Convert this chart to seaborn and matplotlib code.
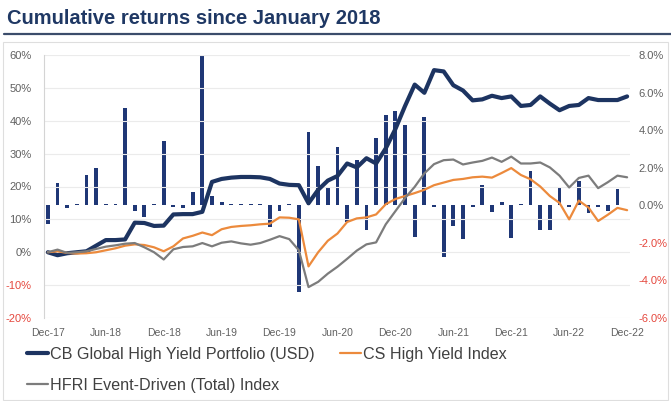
import matplotlib
matplotlib.use("Agg")
import matplotlib.pyplot as plt
import seaborn as sns
from matplotlib.lines import Line2D
from matplotlib.patches import Rectangle

sns.set_style("white")
plt.rcParams["font.family"] = ["Liberation Sans", "DejaVu Sans"]

# Month-end observations, Dec-17 through Dec-22
tick_labels = ["Dec-17", "Jun-18", "Dec-18", "Jun-19", "Dec-19", "Jun-20",
               "Dec-20", "Jun-21", "Dec-21", "Jun-22", "Dec-22"]

# Cumulative returns (%), left axis
cb_cum = [0.0, -0.9, -0.3, 0.0, 0.3, 2.0, 3.7, 3.7, 3.9, 9.0, 8.9, 8.0, 8.1,
          11.5, 11.6, 11.6, 12.3, 21.4, 22.3, 22.7, 22.9, 22.9, 22.8, 22.3,
          20.9, 20.5, 20.4, 14.9, 19.0, 21.8, 23.2, 27.0, 25.8, 28.6, 27.0,
          31.6, 37.5, 44.5, 51.0, 48.5, 55.4, 55.0, 50.8, 49.2, 46.2, 46.5,
          47.6, 46.9, 47.4, 44.5, 44.8, 47.4, 45.2, 43.2, 44.5, 44.8, 46.9,
          46.3, 46.3, 46.3, 47.4]
cs_cum = [0.0, 0.3, -0.2, -0.4, -0.3, 0.0, 0.6, 1.2, 2.0, 2.4, 2.2, 1.5, 0.3,
          1.8, 4.2, 5.0, 6.0, 5.2, 7.0, 7.7, 8.0, 8.2, 8.5, 8.7, 10.6, 10.5,
          10.0, -4.3, 0.0, 3.5, 5.7, 9.2, 10.3, 10.6, 11.5, 14.6, 16.2, 17.1,
          18.0, 19.0, 20.4, 21.2, 22.0, 22.3, 22.8, 23.0, 22.7, 24.1, 25.6,
          23.5, 22.2, 20.0, 17.1, 15.0, 10.0, 15.7, 13.6, 9.5, 11.4, 13.5, 12.8]
hfri_cum = [0.0, 0.8, -0.2, 0.0, 0.3, 1.0, 1.7, 2.1, 2.6, 2.8, 1.5, 0.0, -2.2,
            0.9, 1.6, 1.8, 2.8, 1.8, 2.9, 3.3, 2.7, 2.3, 2.8, 3.8, 4.9, 4.0,
            0.6, -10.6, -9.0, -6.5, -4.4, -2.0, 0.5, 2.4, 3.0, 8.5, 12.5, 16.5,
            19.9, 24.0, 26.8, 28.0, 28.2, 26.7, 27.3, 27.8, 28.8, 27.5, 29.1,
            27.0, 27.0, 27.3, 25.8, 23.3, 19.7, 22.6, 23.3, 19.5, 21.3, 23.3, 22.8]

# Monthly returns of the portfolio (%), right axis
cb_monthly = [-1.0, 1.2, -0.15, 0.05, 1.6, 2.0, 0.05, 0.05, 5.2, -0.3, -0.65,
              0.05, 3.4, -0.1, -0.15, 0.7, 8.0, 0.5, 0.2, 0.05, 0.05, 0.05,
              0.05, -1.15, -0.3, 0.05, -4.6, 3.9, 2.1, 1.0, 3.1, -0.9, 2.4,
              -1.3, 3.6, 4.8, 5.0, 4.3, -1.7, 4.7, -0.1, -2.75, -1.1, -1.8,
              -0.1, 1.1, -0.35, 0.2, -1.75, 0.05, 1.8, -1.3, -1.3, 0.9, -0.1,
              1.3, -0.4, -0.1, -0.3, 0.85]

series_names = ["CB Global High Yield Portfolio (USD)", "CS High Yield Index",
                "HFRI Event-Driven (Total) Index"]

NAVY = "#1d3461"
BAR = "#1f3776"
ORANGE = "#ec8a3c"
GREY = "#7c7c7c"
RED = "#e5473d"
LABEL = "#606060"

W, H = 671, 401
fig = plt.figure(figsize=(W / 100, H / 100), dpi=100)
ax = fig.add_axes([44 / W, 1 - 318 / H, (630 - 44) / W, (318 - 55) / H])
ax2 = ax.twinx()

x_line = list(range(len(cb_cum)))
x_bar = list(range(len(cb_monthly)))

# monthly bars on the secondary axis
sns.barplot(x=x_bar, y=cb_monthly, ax=ax2, native_scale=True, width=0.4,
            color=BAR, saturation=1, errorbar=None, linewidth=0)

# cumulative lines on the primary axis
sns.lineplot(x=x_line, y=cb_cum, ax=ax, color=NAVY, linewidth=3.0,
             label=series_names[0])
sns.lineplot(x=x_line, y=cs_cum, ax=ax, color=ORANGE, linewidth=1.6,
             label=series_names[1])
sns.lineplot(x=x_line, y=hfri_cum, ax=ax, color=GREY, linewidth=1.6,
             label=series_names[2])

ax.set_zorder(ax2.get_zorder() + 1)
ax.patch.set_visible(False)

ax.set_ylim(-20, 60)
ax2.set_ylim(-6, 8)
ax.set_xlim(-0.4, 60.3)

left_ticks = list(range(-20, 61, 10))
ax.set_yticks(left_ticks)
ax.set_yticklabels([f"{t}%" for t in left_ticks])
for t, lab in zip(left_ticks, ax.get_yticklabels()):
    lab.set_color(RED if t < 0 else LABEL)

right_ticks = list(range(-6, 9, 2))
ax2.set_yticks(right_ticks)
ax2.set_yticklabels([f"{t:.1f}%" for t in right_ticks])
for t, lab in zip(right_ticks, ax2.get_yticklabels()):
    lab.set_color(RED if t < 0 else LABEL)

ax.set_xticks(list(range(0, 61, 6)))
ax.set_xticklabels(tick_labels, color=LABEL)

ax.tick_params(axis="y", length=0, labelsize=8, pad=9)
ax.tick_params(axis="x", length=0, labelsize=7.5, pad=7)
ax2.tick_params(axis="y", length=0, labelsize=8, pad=6)
ax.set_xlabel("")
ax.set_ylabel("")
ax2.set_ylabel("")
ax2.set_xlabel("")

ax.yaxis.grid(True, color="#ebebeb", linewidth=0.8)
ax.set_axisbelow(True)
for s in ["top", "right", "bottom"]:
    ax.spines[s].set_visible(False)
    ax2.spines[s].set_visible(False)
ax2.spines["left"].set_visible(False)
ax.spines["left"].set_color("#d4d4d4")
ax.spines["left"].set_linewidth(0.8)

# legend below the plot
handles, labels = ax.get_legend_handles_labels()
ax.get_legend().remove()
order = [0, 2, 1]
leg = fig.legend([handles[i] for i in order], [labels[i] for i in order],
                 ncol=2, loc="upper left", bbox_to_anchor=(27 / W, 1 - 347 / H),
                 frameon=False, fontsize=11.6, handlelength=1.3,
                 handletextpad=0.12, columnspacing=1.6, labelspacing=1.0,
                 borderaxespad=0, borderpad=0)
for txt in leg.get_texts():
    txt.set_color("#404040")

# heading with rule and light panel border
fig.text(7 / W, 1 - 18 / H, "Cumulative returns since January 2018",
         ha="left", va="center", fontsize=14.5, fontweight="bold", color="#1f3864")
fig.add_artist(Line2D([4 / W, 1.0], [1 - 34 / H, 1 - 34 / H],
                      color="#3b4c6b", linewidth=1.6))
fig.add_artist(Rectangle((3 / W, 1 / H), 665 / W, (399 - 41) / H,
                         fill=False, edgecolor="#dedede", linewidth=0.8,
                         transform=fig.transFigure))

fig.savefig("out.png", dpi=100)
